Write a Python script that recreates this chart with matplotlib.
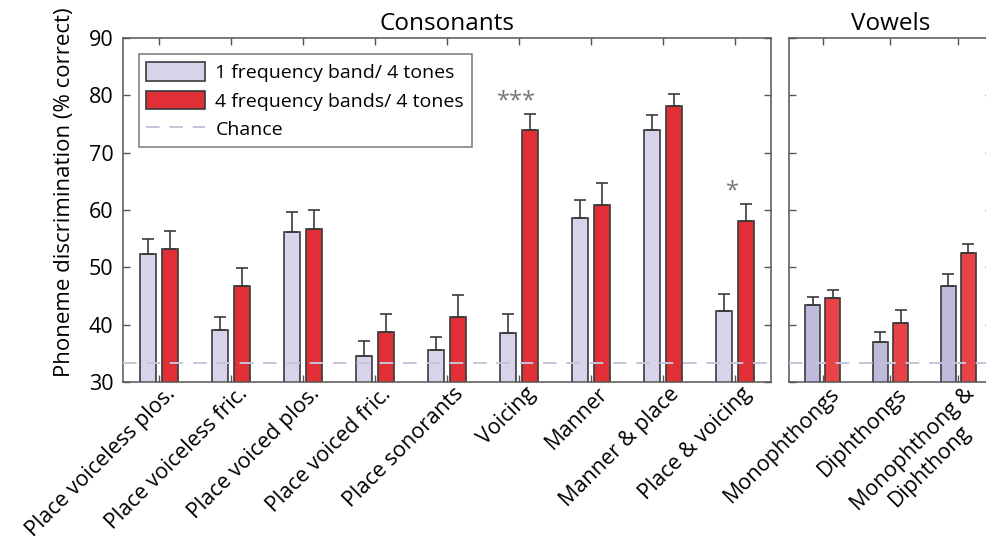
import numpy as np
import matplotlib
matplotlib.use("Agg")
import matplotlib.pyplot as plt
from matplotlib.patches import Patch
from matplotlib.lines import Line2D
from matplotlib.transforms import ScaledTranslation

plt.rcParams['font.family'] = ['Open Sans', 'DejaVu Sans']

# data
cons_labels = ['Place voiceless plos.', 'Place voiceless fric.', 'Place voiced plos.',
               'Place voiced fric.', 'Place sonorants', 'Voicing', 'Manner',
               'Manner & place', 'Place & voicing']
cons_one = [52.3, 39.1, 56.1, 34.6, 35.6, 38.5, 58.65, 74.0, 42.3]
cons_one_err = [2.7, 2.2, 3.55, 2.55, 2.2, 3.3, 3.1, 2.6, 3.05]
cons_four = [53.25, 46.8, 56.75, 38.8, 41.3, 74.0, 60.9, 78.1, 58.0]
cons_four_err = [3.15, 3.1, 3.3, 3.0, 3.8, 2.8, 3.8, 2.2, 3.0]
cons_sig = ['', '', '', '', '', '***', '', '', '*']

vow_labels = ['Monophthongs', 'Diphthongs', 'Monophthong &\nDiphthong']
vow_one = [43.4, 36.9, 46.75]
vow_one_err = [1.5, 1.9, 2.05]
vow_four = [44.6, 40.35, 52.55]
vow_four_err = [1.4, 2.2, 1.55]

chance = 100 / 3.0

legend_labels = ['1 frequency band/ 4 tones', '4 frequency bands/ 4 tones', 'Chance']

# styling
W = 0.22
OFF = 0.148
EDGE = '#3a3a3a'
SPINE = '#555555'
CHANCE_COL = '#c4c4dc'
FS = 15.5

fig = plt.figure(figsize=(9.87, 5.36), dpi=100)
ax1 = fig.add_axes([123 / 987, 154 / 536, 648 / 987, 344 / 536])
ax2 = fig.add_axes([789 / 987, 154 / 536, 203 / 987, 344 / 536])


def draw_panel(ax, labels, one, one_err, four, four_err, c_one, c_four):
    x = np.arange(1, len(labels) + 1)
    ax.bar(x - OFF, one, W, bottom=0, color=c_one, edgecolor=EDGE, linewidth=1.2, zorder=2)
    ax.bar(x + OFF, four, W, bottom=0, color=c_four, edgecolor=EDGE, linewidth=1.2, zorder=2)
    ax.errorbar(x - OFF, one, yerr=[np.zeros(len(one)), one_err], fmt='none',
                ecolor=EDGE, elinewidth=1.2, capsize=4, capthick=1.2, zorder=3)
    ax.errorbar(x + OFF, four, yerr=[np.zeros(len(four)), four_err], fmt='none',
                ecolor=EDGE, elinewidth=1.2, capsize=4, capthick=1.2, zorder=3)
    ax.axhline(chance, color=CHANCE_COL, linestyle=(0, (7, 5)), linewidth=1.4, zorder=4)
    ax.set_xlim(0.5, len(labels) + 0.5)
    ax.set_ylim(30, 90)
    ax.set_yticks(np.arange(30, 91, 10))
    ax.set_xticks(x)
    ax.set_xticklabels(labels, rotation=45, ha='right', va='top',
                       rotation_mode='anchor', fontsize=16, multialignment='center')
    ax.tick_params(direction='in', top=True, right=True, length=5, width=1,
                   color=SPINE, labelsize=FS, pad=7)
    ax.tick_params(axis='x', pad=1)
    # nudge the rotated labels a little to the right, as in the original
    shift = ScaledTranslation(6 / 100, 0, fig.dpi_scale_trans)
    for lbl in ax.get_xticklabels():
        lbl.set_transform(lbl.get_transform() + shift)
    for s in ax.spines.values():
        s.set_color(SPINE)
        s.set_linewidth(1.1)
    return x


x1 = draw_panel(ax1, cons_labels, cons_one, cons_one_err, cons_four, cons_four_err,
                '#d6d4ea', '#e03036')
x2 = draw_panel(ax2, vow_labels, vow_one, vow_one_err, vow_four, vow_four_err,
                '#bdbadb', '#e84347')
ax2.tick_params(labelleft=False)

# significance stars
for xi, top, e, s in zip(x1, cons_four, cons_four_err, cons_sig):
    if s:
        ax1.text(xi - 0.03, top + e + 0.1, s, ha='center', va='bottom',
                 fontsize=17, color='#777777')

ax1.set_ylabel('Phoneme discrimination (% correct)', fontsize=16)
ax1.yaxis.set_label_coords(-0.074, 0.552)
ax1.set_title('Consonants', fontsize=17.5, pad=6)
ax2.set_title('Vowels', fontsize=17.5, pad=6)

handles = [Patch(facecolor='#d6d4ea', edgecolor=EDGE, linewidth=1.2),
           Patch(facecolor='#e03036', edgecolor=EDGE, linewidth=1.2),
           Line2D([], [], color=CHANCE_COL, linestyle=(0, (7, 5)), linewidth=1.4)]
leg = ax1.legend(handles, legend_labels, loc='upper left',
                 bbox_to_anchor=(0.024, 0.953), fontsize=14, frameon=True,
                 fancybox=False, edgecolor=SPINE, handlelength=3.0, handleheight=1.1,
                 borderaxespad=0, labelspacing=0.45, handletextpad=0.55,
                 borderpad=0.4)
leg.get_frame().set_linewidth(1.1)

fig.savefig('out.png', dpi=100)
